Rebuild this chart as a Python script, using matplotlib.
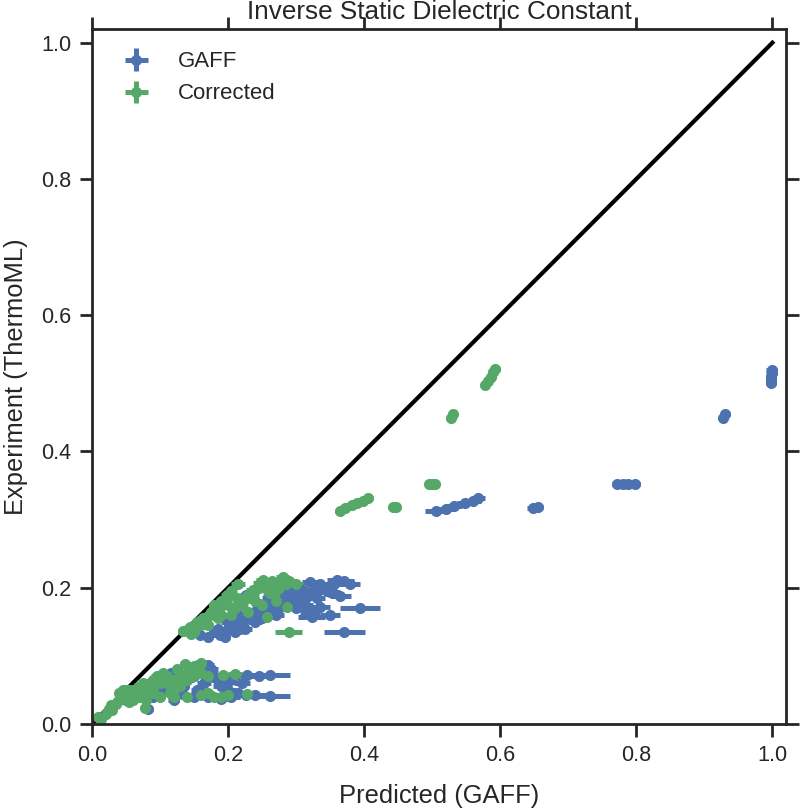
import matplotlib
matplotlib.use("Agg")
import matplotlib.pyplot as plt

plt.rcParams['font.family'] = ['Liberation Sans', 'DejaVu Sans']

# GAFF series: predicted x, experiment y, x uncertainty
gaff_x = [0.998, 0.998, 0.998, 0.999, 0.999,
          0.928, 0.931,
          0.772, 0.780, 0.788, 0.798,
          0.648, 0.655,
          0.505, 0.520, 0.532, 0.548, 0.560, 0.568,
          0.394, 0.371, 0.323, 0.335, 0.360, 0.379, 0.350, 0.320, 0.310, 0.286,
          0.261, 0.236, 0.213, 0.188, 0.159, 0.227, 0.300, 0.275, 0.250, 0.200,
          0.340, 0.330, 0.290, 0.245, 0.225, 0.270, 0.310, 0.365, 0.350,
          0.170, 0.180, 0.195, 0.210, 0.220, 0.230, 0.240, 0.255, 0.265, 0.280,
          0.295, 0.305, 0.315, 0.325, 0.335, 0.345, 0.355, 0.370, 0.245, 0.260,
          0.285, 0.300, 0.320, 0.215, 0.200, 0.185,
          0.261, 0.261, 0.228, 0.227, 0.190, 0.205, 0.170, 0.156, 0.116, 0.140,
          0.165, 0.180, 0.190, 0.155, 0.082, 0.130, 0.100, 0.070, 0.050, 0.170,
          0.200, 0.145,
          0.120, 0.130, 0.150, 0.160, 0.175, 0.185, 0.210, 0.220, 0.200, 0.215,
          0.240, 0.245, 0.110, 0.090, 0.060, 0.120, 0.135, 0.150]
gaff_y = [0.500, 0.505, 0.510, 0.515, 0.520,
          0.449, 0.455,
          0.352, 0.352, 0.352, 0.352,
          0.317, 0.318,
          0.313, 0.316, 0.320, 0.324, 0.327, 0.331,
          0.170, 0.135, 0.157, 0.172, 0.211, 0.206, 0.193, 0.208, 0.197, 0.182,
          0.178, 0.163, 0.148, 0.131, 0.131, 0.189, 0.185, 0.170, 0.155, 0.140,
          0.200, 0.185, 0.195, 0.175, 0.140, 0.160, 0.175, 0.188, 0.160,
          0.128, 0.135, 0.128, 0.135, 0.150, 0.155, 0.150, 0.165, 0.170, 0.175,
          0.180, 0.190, 0.185, 0.195, 0.205, 0.195, 0.205, 0.210, 0.165, 0.185,
          0.190, 0.170, 0.165, 0.160, 0.150, 0.140,
          0.072, 0.041, 0.072, 0.043, 0.036, 0.040, 0.086, 0.086, 0.075, 0.065,
          0.060, 0.070, 0.055, 0.050, 0.022, 0.045, 0.055, 0.045, 0.035, 0.040,
          0.062, 0.078,
          0.060, 0.070, 0.070, 0.075, 0.080, 0.065, 0.072, 0.060, 0.050, 0.045,
          0.042, 0.070, 0.050, 0.040, 0.040, 0.035, 0.055, 0.040]
gaff_xerr = [0.008, 0.008, 0.008, 0.008, 0.008,
             0.006, 0.006,
             0.008, 0.008, 0.008, 0.008,
             0.008, 0.008,
             0.015, 0.012, 0.012, 0.012, 0.012, 0.010,
             0.030, 0.030, 0.020, 0.015, 0.015, 0.015, 0.015, 0.012, 0.012, 0.012,
             0.012, 0.010, 0.010, 0.010, 0.008, 0.010, 0.012, 0.010, 0.010, 0.010,
             0.015, 0.012, 0.012, 0.010, 0.010, 0.012, 0.015, 0.015, 0.015,
             0.008, 0.008, 0.008, 0.010, 0.010, 0.010, 0.010, 0.010, 0.010, 0.012,
             0.012, 0.012, 0.012, 0.012, 0.015, 0.015, 0.015, 0.015, 0.010, 0.010,
             0.012, 0.012, 0.015, 0.010, 0.010, 0.008,
             0.030, 0.030, 0.015, 0.015, 0.012, 0.012, 0.010, 0.010, 0.008, 0.010,
             0.010, 0.012, 0.012, 0.010, 0.008, 0.010, 0.008, 0.006, 0.006, 0.010,
             0.012, 0.010,
             0.008, 0.008, 0.010, 0.010, 0.010, 0.010, 0.012, 0.012, 0.012, 0.012,
             0.015, 0.015, 0.008, 0.008, 0.006, 0.008, 0.008, 0.010]

# Corrected series
corr_x = [0.577, 0.582, 0.586, 0.590, 0.593,
          0.527, 0.530,
          0.496, 0.500, 0.504,
          0.442, 0.447,
          0.365, 0.372, 0.382, 0.390, 0.398, 0.405,
          0.134, 0.144, 0.155, 0.163, 0.175, 0.188, 0.198, 0.213, 0.236, 0.251,
          0.280, 0.261, 0.286, 0.257, 0.289, 0.220, 0.240, 0.205, 0.170, 0.270,
          0.300, 0.230, 0.185, 0.150, 0.215, 0.290, 0.247, 0.266,
          0.140, 0.160, 0.170, 0.180, 0.190, 0.200, 0.210, 0.225, 0.235, 0.245,
          0.255, 0.265, 0.275, 0.285, 0.180, 0.190, 0.205, 0.230, 0.250, 0.270,
          0.165, 0.145,
          0.009, 0.013, 0.020, 0.028, 0.035, 0.040, 0.050, 0.055, 0.065, 0.068,
          0.045, 0.078, 0.090, 0.100, 0.110, 0.120, 0.130, 0.140, 0.100, 0.115,
          0.137, 0.160, 0.140, 0.160, 0.180, 0.200, 0.228, 0.193, 0.210, 0.125,
          0.080, 0.060, 0.030, 0.095, 0.075,
          0.025, 0.040, 0.050, 0.060, 0.070, 0.085, 0.090, 0.105, 0.110, 0.120,
          0.130, 0.140, 0.150, 0.160, 0.170, 0.150, 0.055, 0.080, 0.070, 0.090,
          0.120, 0.170, 0.190]
corr_y = [0.498, 0.504, 0.510, 0.516, 0.521,
          0.449, 0.455,
          0.352, 0.352, 0.352,
          0.318, 0.318,
          0.313, 0.317, 0.321, 0.324, 0.327, 0.331,
          0.137, 0.142, 0.150, 0.156, 0.165, 0.172, 0.189, 0.185, 0.197, 0.211,
          0.216, 0.192, 0.172, 0.157, 0.135, 0.175, 0.180, 0.160, 0.145, 0.205,
          0.205, 0.190, 0.155, 0.135, 0.205, 0.210, 0.207, 0.192,
          0.138, 0.145, 0.158, 0.165, 0.160, 0.175, 0.170, 0.185, 0.190, 0.200,
          0.200, 0.210, 0.200, 0.205, 0.175, 0.180, 0.195, 0.165, 0.175, 0.180,
          0.150, 0.132,
          0.010, 0.008, 0.015, 0.028, 0.030, 0.045, 0.040, 0.050, 0.045, 0.054,
          0.050, 0.023, 0.050, 0.060, 0.070, 0.065, 0.055, 0.075, 0.040, 0.045,
          0.088, 0.089, 0.040, 0.042, 0.040, 0.042, 0.044, 0.072, 0.073, 0.080,
          0.045, 0.035, 0.020, 0.070, 0.060,
          0.022, 0.035, 0.050, 0.050, 0.050, 0.060, 0.065, 0.075, 0.060, 0.050,
          0.070, 0.065, 0.070, 0.075, 0.070, 0.085, 0.032, 0.035, 0.040, 0.045,
          0.040, 0.045, 0.040]
corr_xerr = [0.006, 0.006, 0.006, 0.006, 0.006,
             0.004, 0.004,
             0.005, 0.005, 0.005,
             0.005, 0.005,
             0.008, 0.008, 0.008, 0.008, 0.008, 0.008,
             0.008, 0.008, 0.008, 0.008, 0.008, 0.008, 0.008, 0.010, 0.010, 0.010,
             0.010, 0.010, 0.012, 0.012, 0.020, 0.010, 0.010, 0.008, 0.008, 0.010,
             0.010, 0.010, 0.008, 0.008, 0.010, 0.010, 0.010, 0.010,
             0.008, 0.008, 0.008, 0.008, 0.008, 0.008, 0.010, 0.010, 0.010, 0.010,
             0.010, 0.010, 0.010, 0.010, 0.008, 0.008, 0.008, 0.010, 0.010, 0.010,
             0.008, 0.008,
             0.005, 0.005, 0.005, 0.006, 0.006, 0.006, 0.006, 0.006, 0.006, 0.006,
             0.006, 0.006, 0.008, 0.008, 0.008, 0.008, 0.008, 0.008, 0.008, 0.008,
             0.008, 0.008, 0.010, 0.010, 0.010, 0.010, 0.012, 0.010, 0.010, 0.008,
             0.006, 0.006, 0.005, 0.008, 0.006,
             0.005, 0.006, 0.006, 0.006, 0.006, 0.008, 0.008, 0.008, 0.008, 0.008,
             0.008, 0.008, 0.008, 0.008, 0.010, 0.008, 0.006, 0.006, 0.006, 0.008,
             0.008, 0.010, 0.010]
y_err = 0.004

blue = '#4C72B0'
green = '#55A868'
dark = '#262626'

fig = plt.figure(figsize=(4.0, 4.04), dpi=200)
ax = fig.add_axes([0.115, 0.104, 0.8675, 0.86])

ax.plot([0, 1], [0, 1], color='black', lw=1.5, zorder=1)

for xs, ys, xe, col, lab in [(gaff_x, gaff_y, gaff_xerr, blue, 'GAFF'),
                             (corr_x, corr_y, corr_xerr, green, 'Corrected')]:
    eb = ax.errorbar(xs, ys, xerr=xe, yerr=[y_err] * len(ys), fmt='o', color=col,
                     ms=4.0, mew=0, elinewidth=1.8, capsize=2.5, capthick=0.3,
                     label=lab, zorder=2)
    for c in eb[1]:
        c.set_alpha(0.5)

ax.set_xlim(0, 1.02)
ax.set_ylim(0, 1.02)
ax.set_xticks([0.0, 0.2, 0.4, 0.6, 0.8, 1.0])
ax.set_yticks([0.0, 0.2, 0.4, 0.6, 0.8, 1.0])
for s in ax.spines.values():
    s.set_color(dark)
    s.set_linewidth(1.0)
ax.tick_params(direction='out', length=4.5, width=1.0, color=dark,
               top=True, right=True, labelsize=7.8, labelcolor=dark, pad=3)
ax.set_xlabel('Predicted (GAFF)', fontsize=9.2, color=dark, labelpad=6.5)
ax.set_ylabel('Experiment (ThermoML)', fontsize=9.2, color=dark, labelpad=4.5)
ax.set_title('Inverse Static Dielectric Constant', fontsize=9.4, color=dark, pad=3.5)
leg = ax.legend(loc='upper left', frameon=False, fontsize=8, borderaxespad=0.6,
                handletextpad=0.85, labelspacing=0.5, borderpad=0.4)
for t in leg.get_texts():
    t.set_color(dark)

fig.savefig('out.png', dpi=200)
